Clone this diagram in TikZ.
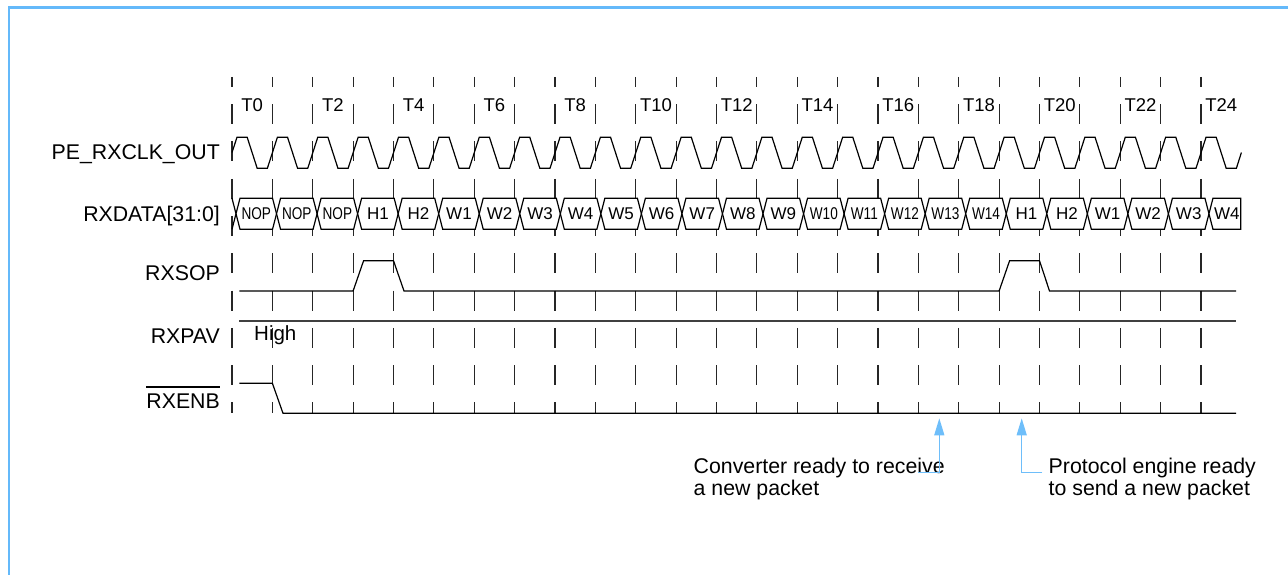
\documentclass[tikz,border=0pt]{standalone}
\usepackage{fontspec}
\setmainfont{Liberation Sans}
\usetikzlibrary{arrows.meta,calc}
\definecolor{frameblue}{RGB}{100,185,250}
\definecolor{arrowblue}{RGB}{110,190,250}
\newcommand\cnd[1]{\scalebox{0.8}[1]{#1}}
\begin{document}
\begin{tikzpicture}[x=1pt,y=-1pt,
  sig/.style={line width=1.2pt, black, line join=miter},
  tickline/.style={line width=1.2pt, black!85, dash pattern=on 20pt off 17.25pt, dash phase=10pt},
  lbl/.style={font=\fontsize{21.3}{24}\selectfont, inner sep=0pt, anchor=base east},
  tlbl/.style={font=\fontsize{18.5}{20}\selectfont, inner sep=0pt, anchor=base},
  cell/.style={font=\fontsize{17}{19}\selectfont, inner sep=0pt},
  note/.style={font=\fontsize{21.3}{24}\selectfont, inner sep=0pt, anchor=base west},
  callout/.style={arrowblue, line width=1.3pt, -{Triangle[length=17pt,width=10pt]}},
]
\useasboundingbox (0,0) rectangle (1288,575);
% frame
\draw[frameblue, line width=2.2pt, line join=miter] (8.8,575) -- (8.8,7.5) -- (1288,7.5);

% tick lines
\foreach \k in {0,...,24} {
  \pgfmathsetmacro\tx{232+40.375*\k}
  \draw[tickline] (\tx,77) -- (\tx,413.3);
}

% time labels
\foreach \k in {0,2,...,24} {
  \node[tlbl] (T\k) at ({232+40.375*\k+20.19},111.7) {T\k};
}

% signal names
\node[lbl] (clk) at (220,160) {PE\_RXCLK\_OUT};
\node[lbl] (data) at (220,221.5) {RXDATA[31:0]};
\node[lbl] (sop) at (220,280) {RXSOP};
\node[lbl] (pav) at (220,343.3) {RXPAV};
\node[lbl] (enb) at (220,408.3) {RXENB};
\draw[line width=1.5pt] ([yshift=6.5pt]enb.north west) -- ([yshift=6.5pt]enb.north east);

% clock
\draw[sig] (232,152.5)
  \foreach \k in {0,...,24} {
    -- ({232+40.375*\k+5},137.3) -- ({232+40.375*\k+15.19},137.3)
    -- ({232+40.375*\k+25.19},168.3) -- ({232+40.375*\k+35.375},168.3)
  } -- (1241.4,152.5);

% data bus
\draw[sig] (232,198.25) -- (236,213.75) -- (232,229.25);
\foreach \lab [count=\n from 0] in {\cnd{NOP},\cnd{NOP},\cnd{NOP},H1,H2,W1,W2,W3,W4,W5,W6,W7,W8,W9,\cnd{W10},\cnd{W11},\cnd{W12},\cnd{W13},\cnd{W14},H1,H2,W1,W2,W3} {
  \pgfmathsetmacro\ca{236+40.54*\n}
  \pgfmathsetmacro\cb{236+40.54*(\n+1)}
  \draw[sig, fill=white] (\ca,213.75) -- (\ca+4,198.25) -- (\cb-4,198.25) -- (\cb,213.75) -- (\cb-4,229.25) -- (\ca+4,229.25) -- cycle;
  \node[cell] (d\n) at ({(\ca+\cb)/2},214) {\lab};
}
\pgfmathsetmacro\ca{236+40.54*24}
\draw[sig, fill=white] (\ca,213.75) -- (\ca+4,198.25) -- (1240.7,198.25) -- (1240.7,229.25) -- (\ca+4,229.25) -- cycle;
\node[cell] (d24) at ({(\ca+1240.7)/2+2},214) {W4};

% RXSOP
\draw[sig] (239.3,291) -- (353.1,291) -- (363.6,260.7) -- (393.5,260.7) -- (404,291)
  -- (999.1,291) -- (1009.6,260.7) -- (1039.5,260.7) -- (1049.5,291) -- (1236,291);

% RXPAV
\draw[line width=1.4pt, black!75] (239.3,321) -- (1236,321);
\node[font=\fontsize{20.5}{23}\selectfont, inner sep=0pt, anchor=base west] (high) at (254,340.5) {High};

% RXENB
\draw[sig] (239.3,383.3) -- (272.4,383.3) -- (283,413.3) -- (1236,413.3);

% notes
\node[note] (n1a) at (693.5,473) {Converter ready to receive};
\node[note] (n1b) at (693.5,495) {a new packet};
\node[note] (n2a) at (1048.5,473) {Protocol engine ready};
\node[note] (n2b) at (1048.5,495) {to send a new packet};

\coordinate (a1s) at (918.3,472.3);
\coordinate (a1c) at (939.3,472.3);
\coordinate (a1t) at (939.3,418.3);
\draw[callout] (a1s) -- (a1c) -- (a1t);
\coordinate (a2s) at (1042.3,472.3);
\coordinate (a2c) at (1021.7,472.3);
\coordinate (a2t) at (1021.7,418.3);
\draw[callout] (a2s) -- (a2c) -- (a2t);
\end{tikzpicture}
\end{document}
